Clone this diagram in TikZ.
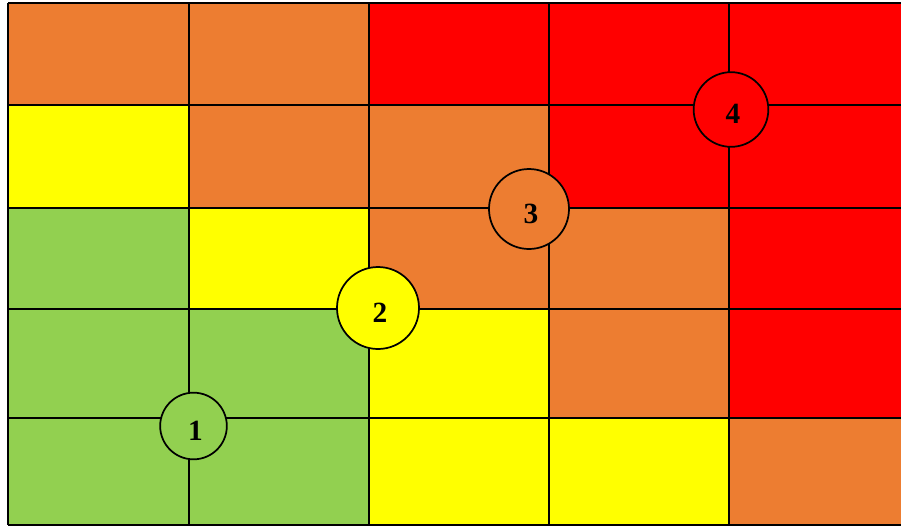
\documentclass[tikz,border=0pt]{standalone}
\usepackage{fontspec}
\setmainfont{Liberation Serif}
\usetikzlibrary{positioning}

\definecolor{riskgreen}{HTML}{92D050}
\definecolor{riskyellow}{HTML}{FFFF00}
\definecolor{riskorange}{HTML}{ED7D31}
\definecolor{riskred}{HTML}{FF0000}

\begin{document}
\begin{tikzpicture}[
      x=0.75pt, y=-0.75pt,
      cellline/.style={draw=black, line width=1.5pt},
      marker/.style={circle, draw=black, line width=1.3pt, inner sep=0pt, text=black, text height=21pt, text depth=0pt, font=\fontsize{22}{26}\selectfont\bfseries}
  ]
  \useasboundingbox (0,0) rectangle (901,526);
  \clip (0,0) rectangle (901,526);

  % cell edges
  \def\colx{{8,189,369,549,729,909}}
  \def\rowy{{3,104.5,208,308.5,418,525}}

  % cells, row by row
  \foreach \cols [count=\r from 0] in {
      {riskorange,riskorange,riskred,riskred,riskred},
      {riskyellow,riskorange,riskorange,riskred,riskred},
      {riskgreen,riskyellow,riskorange,riskorange,riskred},
      {riskgreen,riskgreen,riskyellow,riskorange,riskred},
      {riskgreen,riskgreen,riskyellow,riskyellow,riskorange}} {
    \foreach \fc [count=\c from 0] in \cols {
      \pgfmathsetmacro\xa{\colx[\c]}
      \pgfmathsetmacro\xb{\colx[\c+1]}
      \pgfmathsetmacro\ya{\rowy[\r]}
      \pgfmathsetmacro\yb{\rowy[\r+1]}
      \fill[\fc] (\xa,\ya) rectangle (\xb,\yb);
    }
  }

  % grid lines
  \foreach \i in {0,...,5} {
    \pgfmathsetmacro\xx{\colx[\i]}
    \pgfmathsetmacro\yy{\rowy[\i]}
    \draw[cellline] (\xx,3) -- (\xx,525);
    \draw[cellline] (8,\yy) -- (909,\yy);
  }

  % risk markers
  \node[marker, fill=riskgreen, minimum size=50pt] (one) at (193.5,426) {\hspace*{3pt}1};
  \node[marker, fill=riskyellow, minimum size=61.5pt] (two) at (378,308) {\hspace*{3pt}2};
  \node[marker, fill=riskorange, minimum size=60pt] (three) at (529,209) {\hspace*{3pt}3};
  \node[marker, fill=riskred, minimum size=56pt] (four) at (731,109.5) {\hspace*{3pt}4};

\end{tikzpicture}
\end{document}
